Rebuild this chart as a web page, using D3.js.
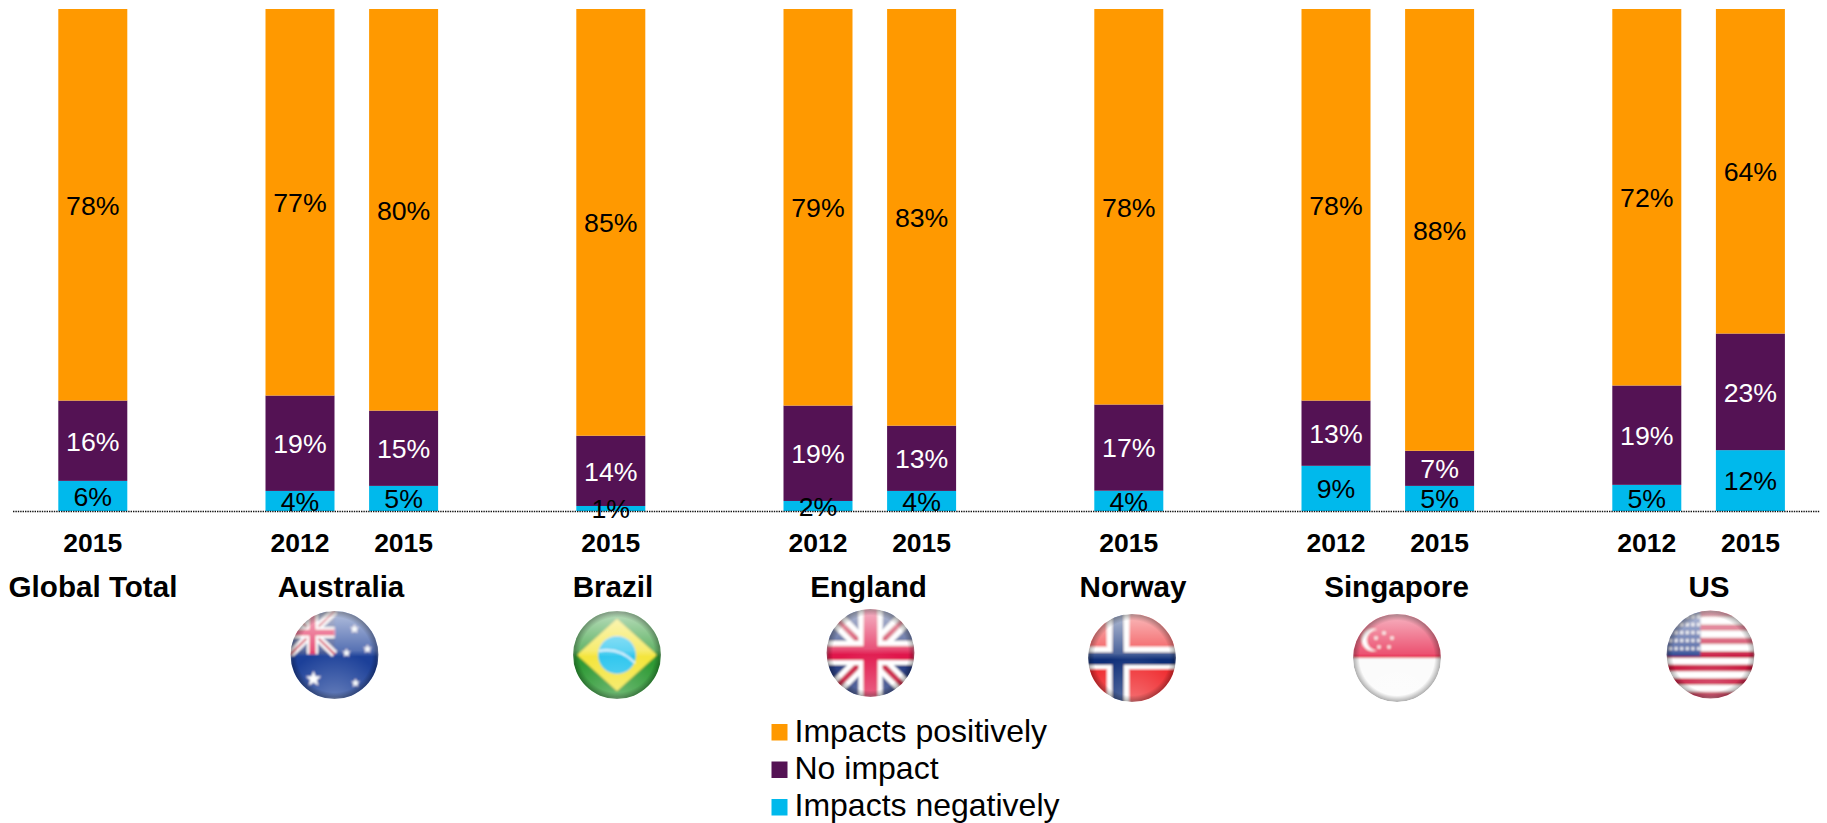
<!DOCTYPE html>
<html>
<head>
<meta charset="utf-8">
<script src="https://d3js.org/d3.v7.min.js"></script>
<style>
html,body{margin:0;padding:0;background:#fff;overflow:hidden}
svg{display:block}
text{font-family:"Liberation Sans",Arial,sans-serif}
</style>
</head>
<body>
<svg id="chart" width="1827" height="823"></svg>
<script>
// ---- data ----
const barCountries = ["Global Total","Australia","Australia","Brazil","England","England","Norway","Singapore","Singapore","US","US"];
const barYears     = ["2015","2012","2015","2015","2012","2015","2015","2012","2015","2012","2015"];
const positive     = [78,77,80,85,79,83,78,78,88,72,64];
const noImpact     = [16,19,15,14,19,13,17,13,7,19,23];
const negative     = [6,4,5,1,2,4,4,9,5,5,12];
const seriesNames  = ["Impacts positively","No impact","Impacts negatively"];
const countries    = ["Global Total","Australia","Brazil","England","Norway","Singapore","US"];

// ---- layout ----
const W = 1827, H = 823;
const barSlots = [0,2,3,5,7,8,10,12,13,15,16];
const baseY = 511, topY = 9;
const countryX = {"Global Total":93,"Australia":341,"Brazil":613,"England":868.5,"Norway":1133,"Singapore":1396.5,"US":1709};
const flagPos = {Australia:[334.5,655],Brazil:[617,655],England:[870.5,653],Norway:[1132,658],Singapore:[1397,658],US:[1710.5,654.5]};
const colors = {"Impacts positively":"#FF9900","No impact":"#541254","Impacts negatively":"#00B9EC"};
const labelColors = {"Impacts positively":"#000","No impact":"#fff","Impacts negatively":"#000"};

const rows = barCountries.map((c,i)=>({
  slot:barSlots[i], country:c, year:barYears[i],
  "Impacts positively":positive[i], "No impact":noImpact[i], "Impacts negatively":negative[i]
}));

const x = d3.scaleBand().domain(d3.range(17)).range([41,1802.2]).paddingInner(0.334).paddingOuter(0.167);
const y = d3.scaleLinear().domain([0,1]).range([baseY,topY]);

const stack = d3.stack()
  .keys(["Impacts negatively","No impact","Impacts positively"])
  .offset(d3.stackOffsetExpand);
const layers = stack(rows);

const svg = d3.select("#chart");
svg.append("rect").attr("width",W).attr("height",H).attr("fill","#fff");
const defs = svg.append("defs");

// bars
const gBars = svg.append("g");
layers.forEach(layer=>{
  gBars.selectAll(null).data(layer).join("rect")
    .attr("x",d=>x(d.data.slot))
    .attr("width",x.bandwidth())
    .attr("y",d=>y(d[1]))
    .attr("height",d=>y(d[0])-y(d[1]))
    .attr("fill",colors[layer.key]);
});

// baseline
svg.append("line").attr("x1",13).attr("x2",1820).attr("y1",baseY+0.5).attr("y2",baseY+0.5)
  .attr("stroke","#111").attr("stroke-width",1.4).attr("stroke-dasharray","1.4 1");

// value labels
layers.forEach(layer=>{
  svg.append("g").selectAll("text").data(layer).join("text")
    .attr("x",d=>x(d.data.slot)+x.bandwidth()/2)
    .attr("y",d=>(y(d[0])+y(d[1]))/2)
    .attr("dy","0.37em")
    .attr("text-anchor","middle")
    .attr("font-size",26.7)
    .attr("fill",labelColors[layer.key])
    .text(d=>d.data[layer.key]+"%");
});

// year axis
const axis = d3.axisBottom(x).tickValues(barSlots).tickSize(0).tickPadding(0)
  .tickFormat(s=>barYears[barSlots.indexOf(s)]);
const gAxis = svg.append("g").attr("transform","translate(0,533)").call(axis);
gAxis.select(".domain").remove();
gAxis.selectAll("text")
  .attr("font-family","Liberation Sans, Arial, sans-serif")
  .attr("font-size",26.5).attr("font-weight","bold").attr("fill","#000")
  .attr("y",0).attr("dy","18.9");

// country names
svg.append("g").selectAll("text").data(countries).join("text")
  .attr("x",d=>countryX[d]).attr("y",597)
  .attr("text-anchor","middle").attr("font-size",29.6).attr("font-weight","bold").attr("fill","#000")
  .text(d=>d);

// legend
const legendTops = [724,761.5,799], legendBase = [741.5,779,816];
const gLeg = svg.append("g");
seriesNames.forEach((n,i)=>{
  gLeg.append("rect").attr("x",771.5).attr("y",legendTops[i]).attr("width",16).attr("height",16.5).attr("fill",colors[n]);
  gLeg.append("text").attr("x",794.5).attr("y",legendBase[i]).attr("font-size",32).attr("fill","#000").text(n);
});

// ---- flags ----
const R = 44;
defs.append("clipPath").attr("id","flagClip").append("circle").attr("r",R);
const blur = defs.append("filter").attr("id","soft").attr("x","-10%").attr("y","-10%").attr("width","120%").attr("height","120%");
blur.append("feGaussianBlur").attr("stdDeviation",0.9);
const gloss = defs.append("linearGradient").attr("id","gloss").attr("x1",0).attr("x2",0).attr("y1",0).attr("y2",1);
[[0,0.68],[0.45,0.26],[0.52,0.0],[1,0.0]].forEach(s=>gloss.append("stop").attr("offset",s[0]).attr("stop-color","#fff").attr("stop-opacity",s[1]));
const edge = defs.append("radialGradient").attr("id","edge").attr("cx","50%").attr("cy","50%").attr("r","50%");
[[0,0],[0.85,0],[1,0.32]].forEach(s=>edge.append("stop").attr("offset",s[0]).attr("stop-color","#000").attr("stop-opacity",s[1]));
const low = defs.append("radialGradient").attr("id","lowGlow").attr("cx","50%").attr("cy","105%").attr("r","60%");
[[0,0.35],[1,0]].forEach(s=>low.append("stop").attr("offset",s[0]).attr("stop-color","#fff").attr("stop-opacity",s[1]));

function rect(g,a,b,w,h,f){g.append("rect").attr("x",a).attr("y",b).attr("width",w).attr("height",h).attr("fill",f);}
function star(g,cx,cy,r,f){
  const pts=d3.range(10).map(i=>{const rr=i%2?r*0.42:r,t=-Math.PI/2+i*Math.PI/5;return [cx+rr*Math.cos(t),cy+rr*Math.sin(t)];});
  g.append("polygon").attr("points",pts.join(" ")).attr("fill",f);
}
function jack(g,a,b,w,h,sw){
  rect(g,a,b,w,h,"#20397f");
  const diag=(c,t)=>{
    g.append("line").attr("x1",a).attr("y1",b).attr("x2",a+w).attr("y2",b+h).attr("stroke",c).attr("stroke-width",t);
    g.append("line").attr("x1",a+w).attr("y1",b).attr("x2",a).attr("y2",b+h).attr("stroke",c).attr("stroke-width",t);
  };
  diag("#fff",sw*0.8); diag("#c8143c",sw*0.3);
  rect(g,a,b+h/2-sw*0.6,w,sw*1.2,"#fff");
  rect(g,a+w/2-sw*0.6,b,sw*1.2,h,"#fff");
  rect(g,a,b+h/2-sw*0.36,w,sw*0.72,"#e0144c");
  rect(g,a+w/2-sw*0.36,b,sw*0.72,h,"#e0144c");
}
const painters = {
  Australia(g){
    rect(g,-R,-R,2*R,2*R,"#1f3f99");
    jack(g,-R,-R,R,R*0.98,9);
    star(g,-21,24,8,"#fff");
    [[20,-26],[33,-6],[12,-2],[21,28]].forEach(p=>star(g,p[0],p[1],4.5,"#fff"));
  },
  Brazil(g){
    rect(g,-R,-R,2*R,2*R,"#2f9a35");
    g.append("polygon").attr("points","0,-36 40,0 0,36 -40,0").attr("fill","#f4e53c");
    g.append("circle").attr("r",19).attr("fill","#2cc5ee");
    g.append("path").attr("d","M-18,-4 Q2,-8 18,8").attr("fill","none").attr("stroke","#dff6ff").attr("stroke-width",1.8);
  },
  England(g){ jack(g,-R,-R,2*R,2*R,20); },
  Norway(g){
    rect(g,-R,-R,2*R,2*R,"#ef2b2d");
    rect(g,-R,-11,2*R,22,"#fff");
    rect(g,-25,-R,22,2*R,"#fff");
    rect(g,-R,-6,2*R,13,"#0c2f78");
    rect(g,-20,-R,12,2*R,"#0c2f78");
  },
  Singapore(g){
    rect(g,-R,-R,2*R,R,"#e5133f");
    rect(g,-R,0,2*R,R,"#fbfbfb");
    g.append("circle").attr("cx",-24).attr("cy",-18).attr("r",11).attr("fill","#fff");
    g.append("circle").attr("cx",-20).attr("cy",-18).attr("r",10.5).attr("fill","#e5133f");
    [[-16,-25],[-8,-20],[-11,-11],[-21,-11],[-24,-20]].forEach(p=>star(g,p[0]+3,p[1],2.4,"#fff"));
  },
  US(g){
    d3.range(13).forEach(i=>rect(g,-R,-R+i*(2*R/13),2*R,2*R/13+0.2,i%2?"#fff":"#c8123c"));
    rect(g,-R,-R,34,46,"#26428f");
    d3.range(5).forEach(r=>d3.range(6).forEach(c=>g.append("circle")
      .attr("cx",-R+4+c*5.6).attr("cy",-R+6+r*8).attr("r",1.5).attr("fill","#fff")));
  }
};
Object.keys(flagPos).forEach(k=>{
  const [cx,cy]=flagPos[k];
  const outer=svg.append("g").attr("transform",`translate(${cx},${cy})`);
  const clip=outer.append("g").attr("clip-path","url(#flagClip)");
  const inner=clip.append("g").attr("filter","url(#soft)");
  painters[k](inner);
  clip.append("rect").attr("x",-R).attr("y",-R).attr("width",2*R).attr("height",2*R).attr("fill","url(#gloss)");
  clip.append("rect").attr("x",-R).attr("y",-R).attr("width",2*R).attr("height",2*R).attr("fill","url(#lowGlow)");
  clip.append("circle").attr("r",R).attr("fill","url(#edge)");
});
</script>
</body>
</html>
